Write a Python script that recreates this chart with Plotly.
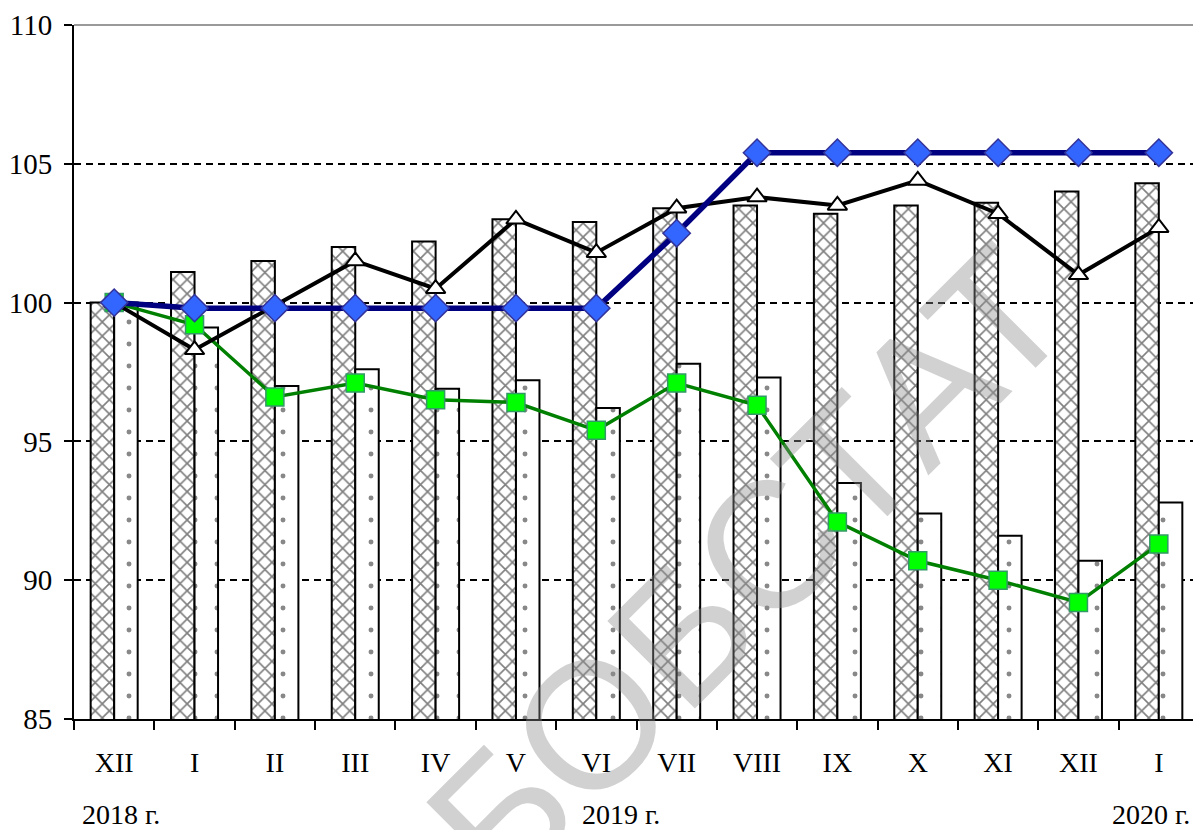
import plotly.graph_objects as go

months = ["XII", "I", "II", "III", "IV", "V", "VI", "VII", "VIII", "IX", "X", "XI", "XII", "I"]
idx = list(range(len(months)))

bars_wave = [100.0, 101.1, 101.5, 102.0, 102.2, 103.0, 102.9, 103.4, 103.5, 103.2, 103.5, 103.6, 104.0, 104.3]
bars_dots = [100.0, 99.1, 97.0, 97.6, 96.9, 97.2, 96.2, 97.8, 97.3, 93.5, 92.4, 91.6, 90.7, 92.8]
line_triangle = [100.0, 98.3, 99.9, 101.5, 100.5, 103.0, 101.8, 103.4, 103.8, 103.5, 104.4, 103.2, 101.0, 102.7]
line_diamond = [100.0, 99.8, 99.8, 99.8, 99.8, 99.8, 99.8, 102.5, 105.4, 105.4, 105.4, 105.4, 105.4, 105.4]
line_square = [100.0, 99.2, 96.6, 97.1, 96.5, 96.4, 95.4, 97.1, 96.3, 92.1, 90.7, 90.0, 89.2, 91.3]

y_ticks = [85, 90, 95, 100, 105, 110]
year_labels = ["2018 г.", "2019 г.", "2020 г."]
watermark = "БОБСТАТ"

SERIF = "Liberation Serif, Times New Roman, serif"

fig = go.Figure()

fig.add_trace(go.Bar(
    x=idx, y=bars_wave,
    marker=dict(color="white", line=dict(color="black", width=2),
                pattern=dict(shape="x", fgcolor="#000000", bgcolor="white", size=10, solidity=0.3)),
    showlegend=False, hoverinfo="skip"))
fig.add_trace(go.Bar(
    x=idx, y=bars_dots,
    marker=dict(color="white", line=dict(color="black", width=2),
                pattern=dict(shape=".", fgcolor="#111111", bgcolor="white", size=22, solidity=0.04)),
    showlegend=False, hoverinfo="skip"))

fig.add_trace(go.Scatter(
    x=idx, y=line_square, mode="lines+markers",
    line=dict(color="#008000", width=3.5),
    marker=dict(symbol="square", size=18, color="#00FF00", line=dict(color="#339966", width=1.5)),
    showlegend=False, hoverinfo="skip"))
fig.add_trace(go.Scatter(
    x=idx, y=line_triangle, mode="lines+markers",
    line=dict(color="black", width=4),
    marker=dict(symbol="triangle-up", size=17, color="white", line=dict(color="black", width=2)),
    showlegend=False, hoverinfo="skip"))
fig.add_trace(go.Scatter(
    x=idx, y=line_diamond, mode="lines+markers",
    line=dict(color="#000080", width=5.5),
    marker=dict(symbol="diamond", size=21, color="#3366FF", line=dict(color="#333399", width=1.5)),
    showlegend=False, hoverinfo="skip"))

# page body has an 8px margin: figure is 8px smaller and margins shifted accordingly
fig.update_layout(
    width=1193, height=822,
    margin=dict(l=66, r=2, t=17, b=111),
    paper_bgcolor="white", plot_bgcolor="white",
    barmode="group", bargap=0.415, bargroupgap=0,
    font=dict(family=SERIF, size=28, color="black"),
    showlegend=False,
)

fig.update_xaxes(
    range=[-0.5, len(months) - 0.5],
    tickmode="array", tickvals=idx, ticktext=months,
    ticks="", showgrid=False, zeroline=False,
    showline=True, linecolor="black", linewidth=2,
    tickfont=dict(family=SERIF, size=28, color="black"),
    ticklabelstandoff=17,
    minor=dict(tickmode="linear", tick0=-0.5, dtick=1, ticks="outside", ticklen=9,
               tickwidth=2, tickcolor="black", showgrid=False),
)
fig.update_yaxes(
    range=[85, 110], tickmode="array", tickvals=y_ticks,
    ticks="outside", ticklen=8, tickwidth=2, tickcolor="black",
    showline=True, linecolor="black", linewidth=2,
    showgrid=True, gridcolor="black", gridwidth=2, griddash="7px,5px",
    zeroline=False, ticklabelstandoff=6,
    tickfont=dict(family=SERIF, size=29, color="black"),
)

# plot frame (top and right), light gray
fig.add_shape(type="line", xref="paper", yref="paper", x0=0, x1=1, y0=1, y1=1,
              line=dict(color="#9a9a9a", width=2))
fig.add_shape(type="line", xref="paper", yref="paper", x0=1, x1=1, y0=0, y1=1,
              line=dict(color="#9a9a9a", width=2))

# year labels
fig.add_annotation(text=year_labels[0], xref="paper", yref="paper", x=0.005, y=-0.137,
                   xanchor="left", yanchor="middle", showarrow=False,
                   font=dict(family=SERIF, size=28, color="black"))
fig.add_annotation(text=year_labels[1], xref="paper", yref="paper", x=0.486, y=-0.137,
                   xanchor="center", yanchor="middle", showarrow=False,
                   font=dict(family=SERIF, size=28, color="black"))
fig.add_annotation(text=year_labels[2], xref="paper", yref="paper", x=0.994, y=-0.137,
                   xanchor="right", yanchor="middle", showarrow=False,
                   font=dict(family=SERIF, size=28, color="black"))

# watermark
fig.add_annotation(text=watermark, xref="paper", yref="paper", x=0.599, y=0.218,
                   xanchor="center", yanchor="middle", showarrow=False, textangle=-45,
                   font=dict(family="Liberation Sans, Arial, sans-serif", size=180,
                             color="rgba(140,140,140,0.4)"))

fig.write_html("out.html")
